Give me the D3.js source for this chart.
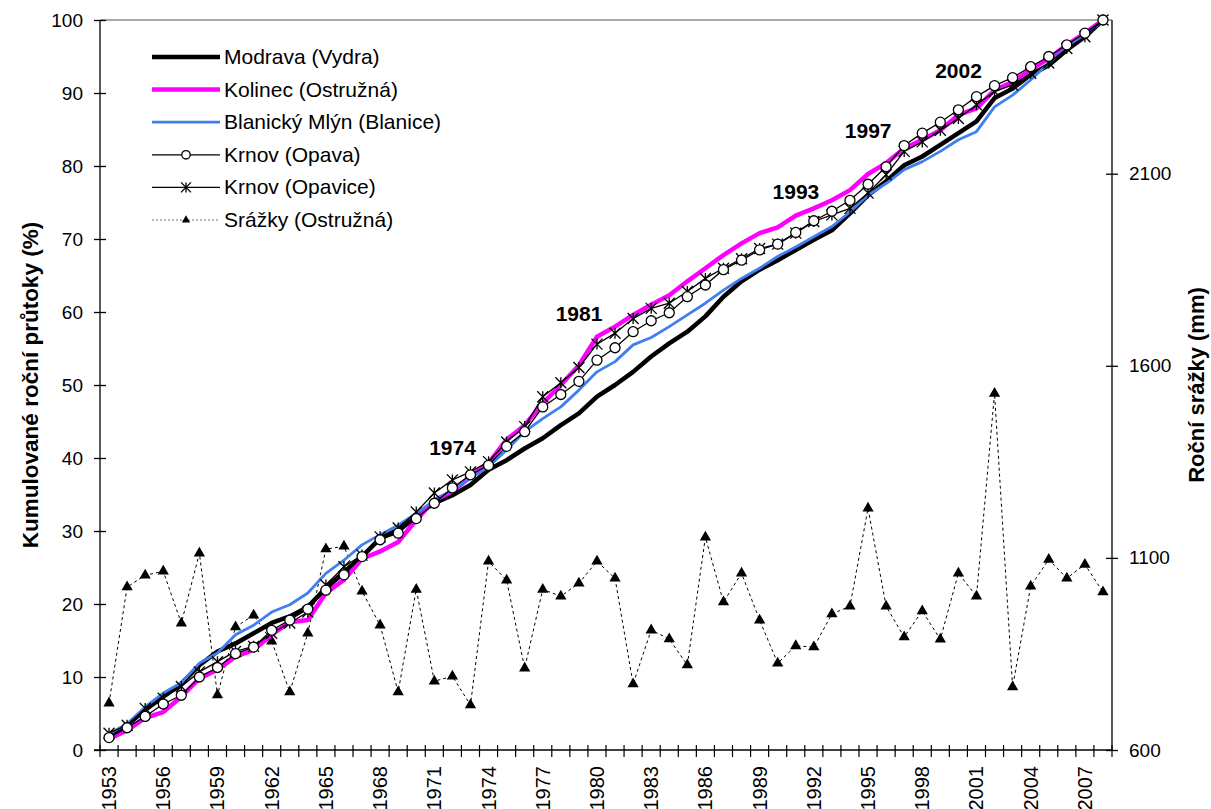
<!DOCTYPE html>
<html>
<head>
<meta charset="utf-8">
<script src="https://cdn.jsdelivr.net/npm/d3@7"></script>
<style>
body { margin: 0; background: #fff; }
svg text { font-family: "Liberation Sans", Arial, sans-serif; }
</style>
</head>
<body>
<script>
var width = 1211;
var height = 809;
var mLeft = 100, mRight = 1112, mTop = 20, mBottom = 750;

// data
var years = d3.range(1953, 2009);
var modrava = [2.0,3.4,5.5,7.3,9.1,11.6,13.5,14.6,16.0,17.4,18.3,19.6,22.2,24.4,26.5,29.0,30.1,32.2,33.8,34.9,36.3,38.4,39.7,41.3,42.7,44.5,46.1,48.4,50.0,51.8,53.9,55.7,57.3,59.4,62.1,64.2,65.8,67.1,68.5,69.9,71.2,73.5,76.0,77.9,80.1,81.3,82.9,84.5,86.1,89.3,90.6,92.5,93.8,95.9,97.7,100];
var kolinec = [1.5,2.7,4.4,5.2,7.3,9.8,11.0,12.8,13.7,15.8,17.5,17.8,21.5,23.3,26.2,27.2,28.5,31.5,34.2,35.4,37.4,39.3,42.5,44.5,47.5,50.0,52.7,56.6,58.0,59.6,61.0,62.3,64.2,66.0,67.8,69.4,70.8,71.6,73.2,74.2,75.3,76.7,78.9,80.4,82.4,83.6,84.9,87.0,87.9,90.4,91.5,93.2,94.7,96.6,98.2,100];
var blanice = [2.2,3.6,5.9,7.8,9.2,11.9,13.3,15.8,17.1,18.9,19.9,21.5,24.2,26.0,28.1,29.5,30.8,32.4,34.2,35.6,37.2,38.8,41.1,43.6,45.4,47.0,49.3,51.8,53.2,55.5,56.5,58.0,59.6,61.2,63.0,64.6,66.0,67.6,68.9,70.3,71.7,73.7,76.0,77.6,79.5,80.6,82.0,83.6,84.7,88.1,89.7,91.8,94.1,96.3,97.9,100];
var opava = [1.7,3.05,4.6,6.3,7.5,10.0,11.3,13.2,14.1,16.4,17.8,19.3,21.9,24.0,26.5,28.8,29.7,31.7,33.8,35.9,37.7,39.0,41.6,43.6,47.0,48.7,50.5,53.4,55.1,57.3,58.8,59.9,62.1,63.7,65.8,67.1,68.5,69.3,70.9,72.5,73.8,75.3,77.5,79.9,82.8,84.5,86.0,87.7,89.5,91.0,92.1,93.6,95.0,96.6,98.2,100];
var opavice = [2.3,3.4,5.7,7.1,8.7,10.7,12.1,13.5,14.2,16.0,17.4,18.9,22.6,25.1,26.7,29.2,30.4,32.6,35.2,37.0,38.1,39.5,42.2,44.3,48.4,50.3,52.4,55.6,57.1,59.1,60.5,61.2,62.8,64.6,66.0,67.3,68.7,69.3,70.8,72.4,73.3,74.2,76.3,78.8,82.0,83.3,84.9,86.5,88.4,90.2,91.1,92.7,94.1,96.1,97.7,100];
var srazky = [722,1024,1055,1065,930,1112,743,920,951,883,751,904,1123,1130,1013,925,751,1018,779,792,717,1091,1042,813,1018,1000,1034,1091,1047,772,912,889,821,1154,985,1060,938,826,871,868,954,974,1229,974,894,962,888,1060,1000,1528,764,1026,1096,1047,1083,1011];

var seriesNames = ["Modrava (Vydra)", "Kolinec (Ostružná)", "Blanický Mlýn (Blanice)", "Krnov (Opava)", "Krnov (Opavice)", "Srážky (Ostružná)"];
var leftTicks = d3.range(0, 101, 10);
var rightTicks = [600, 1100, 1600, 2100];
var yearLabels = years.filter(function(y) { return (y - 1953) % 3 === 0; });
var noteYears = [1974, 1981, 1993, 1997, 2002];
var noteValues = [40.4, 58.8, 75.5, 83.8, 92.1];

var svg = d3.select("body").append("svg")
    .attr("width", width)
    .attr("height", height);

var x = d3.scaleBand().domain(years).range([mLeft, mRight]).padding(0);
var y = d3.scaleLinear().domain([0, 100]).range([mBottom, mTop]);
var y2 = d3.scaleLinear().domain([600, 2500]).range([mBottom, mTop]);
var cx = function(yr) { return x(yr) + x.bandwidth() / 2; };

// plot border top
svg.append("line")
    .attr("x1", mLeft).attr("x2", mRight).attr("y1", mTop).attr("y2", mTop)
    .attr("stroke", "#8c8c8c").attr("stroke-width", 1.3);

// left axis
var yAxis = svg.append("g")
    .attr("transform", "translate(" + mLeft + ",0)")
    .call(d3.axisLeft(y).tickValues(leftTicks).tickSize(6).tickPadding(11));

// right axis
var y2Axis = svg.append("g")
    .attr("transform", "translate(" + mRight + ",0)")
    .call(d3.axisRight(y2).tickValues(rightTicks).tickFormat(d3.format("d")).tickSize(6).tickPadding(11));

[yAxis, y2Axis].forEach(function(a) {
    a.select(".domain").remove();
    a.selectAll(".tick line").attr("x1", -6).attr("x2", 6)
        .attr("stroke", "#000").attr("stroke-width", 1.3);
    a.selectAll("text").style("font-size", "19px").attr("fill", "#000");
});
svg.append("line").attr("x1", mLeft).attr("x2", mLeft).attr("y1", mTop).attr("y2", mBottom)
    .attr("stroke", "#000").attr("stroke-width", 1.3);
svg.append("line").attr("x1", mRight).attr("x2", mRight).attr("y1", mTop).attr("y2", mBottom)
    .attr("stroke", "#000").attr("stroke-width", 1.3);

// x axis
svg.append("line").attr("x1", mLeft - 6).attr("x2", mRight).attr("y1", mBottom).attr("y2", mBottom)
    .attr("stroke", "#000").attr("stroke-width", 1.3);
svg.append("g").selectAll("line")
    .data(years.concat([2009]))
    .enter().append("line")
    .attr("x1", function(d) { return d === 2009 ? mRight : x(d); })
    .attr("x2", function(d) { return d === 2009 ? mRight : x(d); })
    .attr("y1", mBottom - 5).attr("y2", mBottom + 7)
    .attr("stroke", "#000").attr("stroke-width", 1.2);
svg.append("g").selectAll("text")
    .data(yearLabels)
    .enter().append("text")
    .attr("transform", function(d) { return "translate(" + (cx(d) + 7) + "," + (mBottom + 16) + ") rotate(-90)"; })
    .attr("text-anchor", "end")
    .style("font-size", "20px")
    .text(function(d) { return d; });

// axis titles
svg.append("text")
    .attr("transform", "translate(38," + ((mTop + mBottom) / 2) + ") rotate(-90)")
    .attr("text-anchor", "middle")
    .style("font-size", "22.5px").style("font-weight", "bold")
    .text("Kumulované roční průtoky (%)");
svg.append("text")
    .attr("transform", "translate(1204," + ((mTop + mBottom) / 2) + ") rotate(-90)")
    .attr("text-anchor", "middle")
    .style("font-size", "22px").style("font-weight", "bold")
    .text("Roční srážky (mm)");

// lines
var line = d3.line().x(function(d, i) { return cx(years[i]); }).y(function(d) { return y(d); });
var line2 = d3.line().x(function(d, i) { return cx(years[i]); }).y(function(d) { return y2(d); });

function starPath(s) {
    return "M0," + (-s) + "L0," + s + "M" + (-s) + "," + (-s) + "L" + s + "," + s + "M" + (-s) + "," + s + "L" + s + "," + (-s);
}
var tri = d3.symbol().type(d3.symbolTriangle).size(55)();

// precipitation
svg.append("path").datum(srazky)
    .attr("d", line2).attr("fill", "none")
    .attr("stroke", "#000").attr("stroke-width", 1).attr("stroke-dasharray", "3,3");
svg.append("g").selectAll("path")
    .data(srazky).enter().append("path")
    .attr("d", tri)
    .attr("transform", function(d, i) { return "translate(" + cx(years[i]) + "," + y2(d) + ")"; })
    .attr("fill", "#000");

svg.append("path").datum(modrava).attr("d", line).attr("fill", "none")
    .attr("stroke", "#000").attr("stroke-width", 4.5).attr("stroke-linejoin", "round");
svg.append("path").datum(kolinec).attr("d", line).attr("fill", "none")
    .attr("stroke", "#ff00ff").attr("stroke-width", 4.5).attr("stroke-linejoin", "round");
svg.append("path").datum(blanice).attr("d", line).attr("fill", "none")
    .attr("stroke", "#3f7ff0").attr("stroke-width", 2.8).attr("stroke-linejoin", "round");

svg.append("path").datum(opavice).attr("d", line).attr("fill", "none")
    .attr("stroke", "#000").attr("stroke-width", 1.3);
svg.append("g").selectAll("path")
    .data(opavice).enter().append("path")
    .attr("d", starPath(5.5))
    .attr("transform", function(d, i) { return "translate(" + cx(years[i]) + "," + y(d) + ")"; })
    .attr("stroke", "#000").attr("stroke-width", 1.3).attr("fill", "none");

svg.append("path").datum(opava).attr("d", line).attr("fill", "none")
    .attr("stroke", "#000").attr("stroke-width", 1.3);
svg.append("g").selectAll("circle")
    .data(opava).enter().append("circle")
    .attr("cx", function(d, i) { return cx(years[i]); })
    .attr("cy", function(d) { return y(d); })
    .attr("r", 5)
    .attr("fill", "#fff").attr("stroke", "#000").attr("stroke-width", 1.3);

// annotations
svg.append("g").selectAll("text")
    .data(noteYears).enter().append("text")
    .attr("x", function(d) { return cx(d) - 36; })
    .attr("y", function(d, i) { return y(noteValues[i]); })
    .attr("text-anchor", "middle")
    .style("font-size", "21px").style("font-weight", "bold")
    .text(function(d) { return d; });

// legend
var legend = svg.append("g").attr("transform", "translate(152,57)");
var rowH = 32.6;
var legendStyles = [
    {stroke: "#000", w: 4.5},
    {stroke: "#ff00ff", w: 4.5},
    {stroke: "#3f7ff0", w: 2.8},
    {stroke: "#000", w: 1.3, marker: "circle"},
    {stroke: "#000", w: 1.3, marker: "star"},
    {stroke: "#777", w: 1, dash: "2,2", marker: "tri"}
];
seriesNames.forEach(function(name, i) {
    var g = legend.append("g").attr("transform", "translate(0," + (i * rowH) + ")");
    var st = legendStyles[i];
    g.append("line").attr("x1", 0).attr("x2", 68).attr("y1", 0).attr("y2", 0)
        .attr("stroke", st.stroke).attr("stroke-width", st.w)
        .attr("stroke-dasharray", st.dash || null);
    if (st.marker === "circle") {
        g.append("circle").attr("cx", 34).attr("cy", 0).attr("r", 4.2)
            .attr("fill", "#fff").attr("stroke", "#000").attr("stroke-width", 1.3);
    } else if (st.marker === "star") {
        g.append("path").attr("d", starPath(5)).attr("transform", "translate(34,0)")
            .attr("stroke", "#000").attr("stroke-width", 1.3);
    } else if (st.marker === "tri") {
        g.append("path").attr("d", d3.symbol().type(d3.symbolTriangle).size(30)()).attr("transform", "translate(34,0)")
            .attr("fill", "#000");
    }
    g.append("text").attr("x", 72).attr("y", 7)
        .style("font-size", "21px")
        .text(name);
});
</script>
</body>
</html>
